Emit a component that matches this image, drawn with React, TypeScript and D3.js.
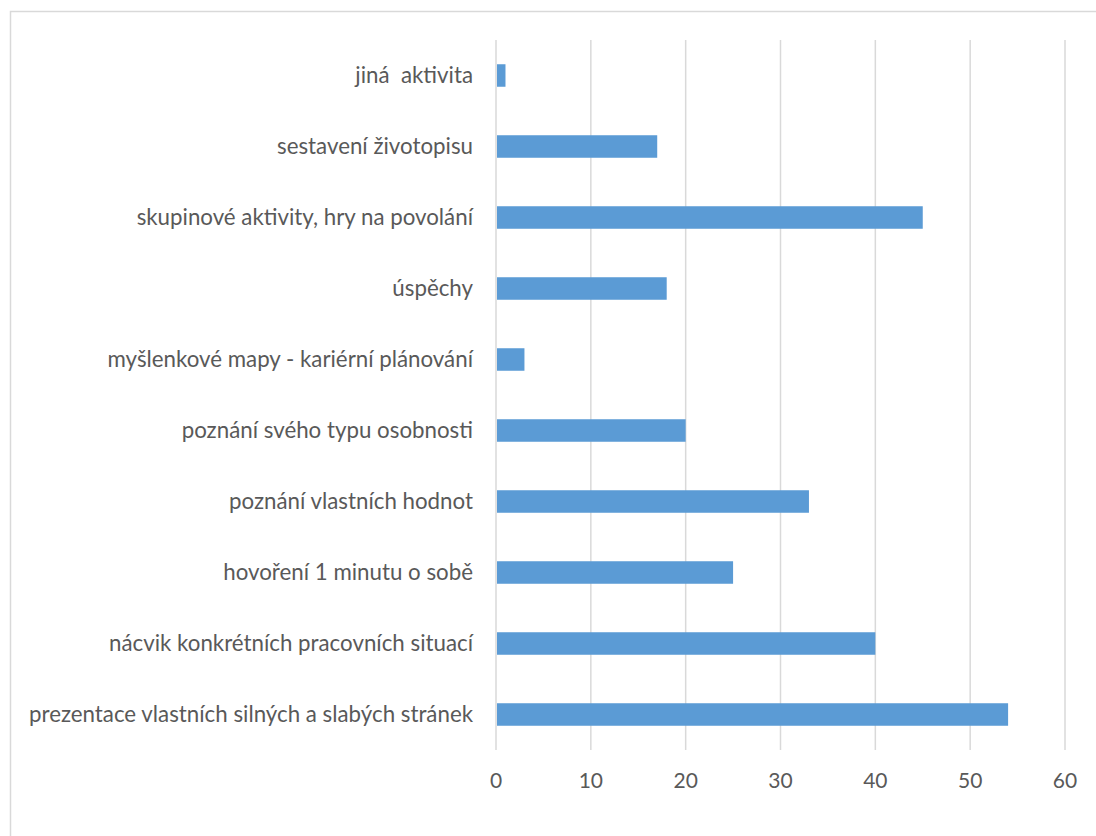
import React from "react";
import * as d3 from "d3";

const categories = [
  "jiná  aktivita",
  "sestavení životopisu",
  "skupinové aktivity, hry na povolání",
  "úspěchy",
  "myšlenkové mapy - kariérní plánování",
  "poznání svého typu osobnosti",
  "poznání vlastních hodnot",
  "hovoření 1 minutu o sobě",
  "nácvik konkrétních pracovních situací",
  "prezentace vlastních silných a slabých stránek",
];
const values = [1, 17, 45, 18, 3, 20, 33, 25, 40, 54];
const xTicks = [0, 10, 20, 30, 40, 50, 60];

const W = 1096;
const H = 836;
const plot = { left: 496, right: 1065, top: 40, bottom: 750 };
const FONT = "Lato, 'Open Sans', sans-serif";

export default function App() {
  const x = d3.scaleLinear().domain([0, 60]).range([plot.left, plot.right]);
  const y = d3
    .scaleBand<string>()
    .domain(categories)
    .range([plot.top, plot.bottom])
    .paddingInner(0.683)
    .paddingOuter(0.3415);

  return (
    <div style={{ position: "absolute", left: 0, top: 0 }}>
      <svg width={W} height={H} style={{ display: "block", background: "#fff" }}>
        <rect x={10.5} y={11.5} width={W} height={H} fill="#fff" stroke="#d9d9d9" strokeWidth={1.5} />
        {xTicks.map((t) => (
          <line key={"g" + t} x1={x(t)} x2={x(t)} y1={plot.top} y2={plot.bottom} stroke="#d9d9d9" strokeWidth={1.5} />
        ))}
        {categories.map((c, i) => (
          <rect key={"b" + c} x={x(0) + 1} y={y(c)!} width={x(values[i]) - x(0) - 1} height={y.bandwidth()} fill="#5b9bd5" />
        ))}
        {categories.map((c) => (
          <text
            key={"l" + c}
            x={plot.left - 23}
            y={y(c)! + y.bandwidth() / 2}
            dy="0.35em"
            textAnchor="end"
            fill="#595959"
            fontFamily={FONT}
            fontSize={22.3}
            style={{ whiteSpace: "pre" }}
          >
            {c}
          </text>
        ))}
        {xTicks.map((t) => (
          <text
            key={"t" + t}
            x={x(t)}
            y={781}
            dy="0.35em"
            textAnchor="middle"
            fill="#595959"
            fontFamily={FONT}
            fontSize={21}
          >
            {d3.format("d")(t)}
          </text>
        ))}
      </svg>
    </div>
  );
}
